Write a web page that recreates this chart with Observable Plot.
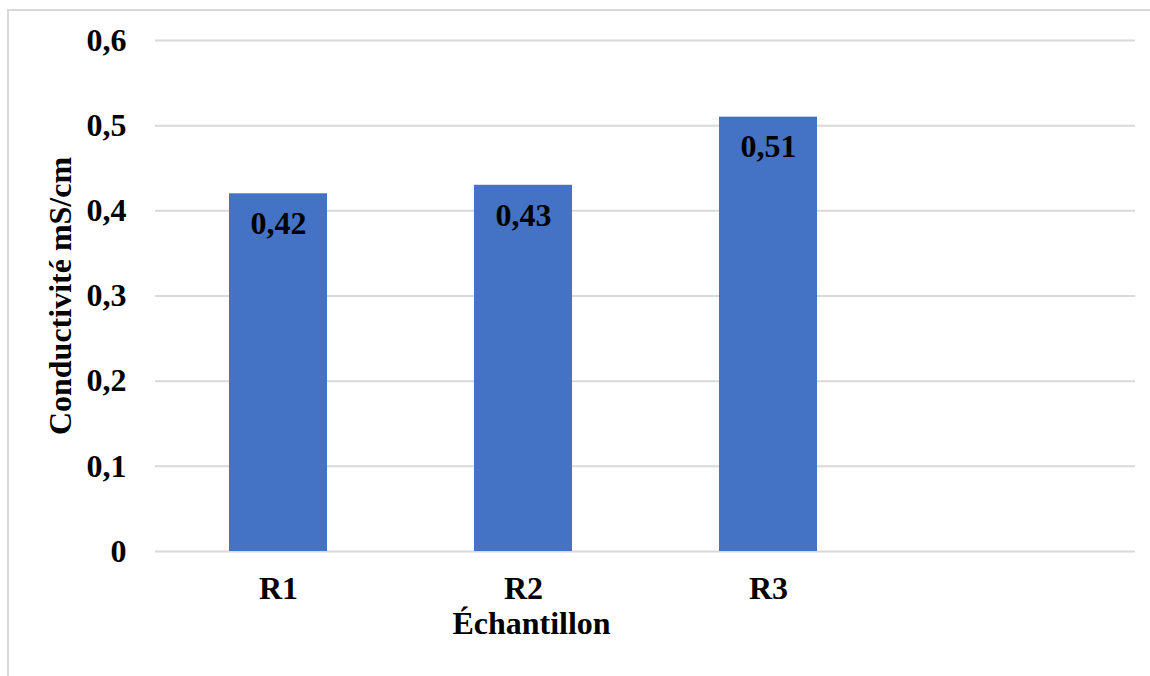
<!DOCTYPE html>
<html>
<head>
<meta charset="utf-8">
<script src="https://cdn.jsdelivr.net/npm/d3@7"></script>
<script src="https://cdn.jsdelivr.net/npm/@observablehq/plot@0.6"></script>
<style>
  html, body { margin: 0; padding: 0; background: #fff; }
  #wrap { position: relative; width: 1150px; height: 676px; overflow: hidden; }
  #border { position: absolute; left: 7px; top: 9px; width: 1160px; height: 700px;
            border-left: 2px solid #d9d9d9; border-top: 2px solid #d9d9d9; box-sizing: border-box; }
  #chart { position: absolute; left: 0; top: 0; }
  #chart svg text { font-family: "Liberation Serif", "Times New Roman", serif !important; font-weight: 700 !important; }
</style>
</head>
<body>
<div id="wrap"><div id="border"></div><div id="chart"></div></div>
<script>
// Conductivity per sample (mS/cm)
const samples = ["R1", "R2", "R3"];
const conductivity = [0.42, 0.43, 0.51];
const slots = ["R1", "R2", "R3", ""]; // four category slots, last one left empty
const yTicks = [0, 0.1, 0.2, 0.3, 0.4, 0.5, 0.6];

const data = samples.map((s, i) => ({sample: s, value: conductivity[i]}));
const comma = d => String(d).replace(".", ",");
const font = "Liberation Serif, Times New Roman, serif";
const size = 32;

const chart = Plot.plot({
  width: 1150,
  height: 676,
  marginLeft: 155,
  marginRight: 15,
  marginTop: 40,
  marginBottom: 125,
  style: {fontFamily: font, fontWeight: "bold", fontSize: `${size}px`, color: "#000", background: "transparent"},
  x: {domain: slots, paddingInner: 0.6, paddingOuter: 0.3},
  y: {domain: [0, 0.6]},
  marks: [
    Plot.gridY(yTicks, {stroke: "#d9d9d9", strokeOpacity: 1, strokeWidth: 2}),
    Plot.barY(data, {x: "sample", y: "value", fill: "#4472C4"}),
    Plot.text(data, {x: "sample", y: "value", text: d => comma(d.value), dy: 30,
      fill: "#000", fontSize: size, fontWeight: "bold"}),
    Plot.axisY({ticks: yTicks, tickFormat: comma, tickSize: 0, tickPadding: 29, label: null,
      fontSize: size, fontWeight: "bold"}),
    Plot.axisX({tickSize: 0, tickPadding: 25, label: null, fontSize: size, fontWeight: "bold"}),
    Plot.text(["Conductivité mS/cm"], {frameAnchor: "left", rotate: -90, dx: -95, dy: 0,
      textAnchor: "middle", fill: "#000", fontSize: size, fontWeight: "bold"}),
    Plot.text(["Échantillon"], {frameAnchor: "bottom", dx: -114, dy: 82,
      fill: "#000", fontSize: size, fontWeight: "bold"})
  ]
});
document.getElementById("chart").append(chart);
</script>
</body>
</html>
